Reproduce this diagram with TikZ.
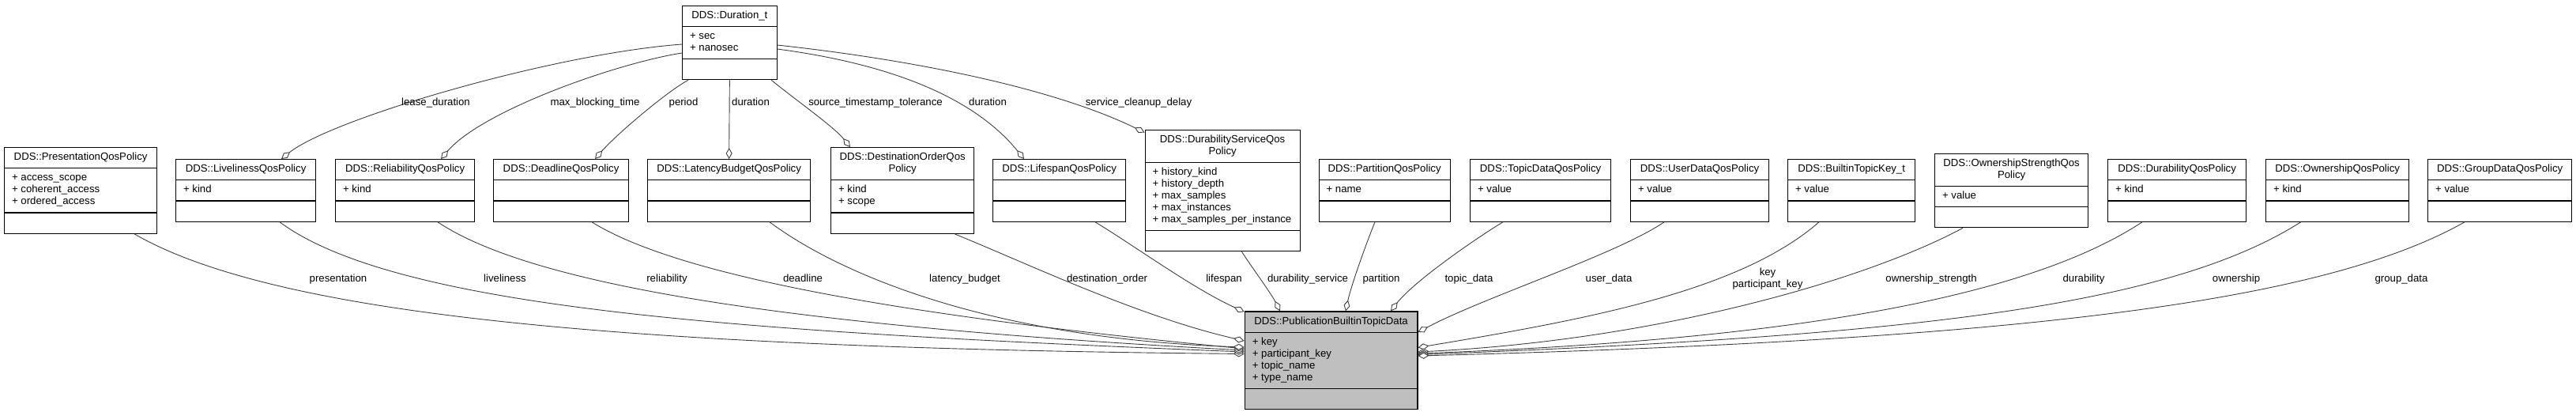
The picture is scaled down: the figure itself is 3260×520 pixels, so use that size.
\documentclass[tikz,border=0pt]{standalone}
\usepackage{fontspec}
\setmainfont{Liberation Sans}
\usetikzlibrary{shapes.multipart,arrows.meta}
\newcommand\clshead[1]{\begin{tabular}{@{}c@{}}#1\end{tabular}}
\newcommand\clsattr[1]{\begin{tabular}{@{}l@{}}#1\end{tabular}}
\begin{document}
\begin{tikzpicture}[x=1pt,y=-1pt,
  cls/.style={rectangle split, rectangle split parts=3, draw=black, line width=1.2pt,
    fill=white, inner xsep=9.5pt, inner ysep=5pt,
    rectangle split part align={center,left,left}, anchor=north west,
    font=\fontsize{13.2}{15}\selectfont},
  hl/.style={cls, fill=black!25},
  agg/.style={draw=black!75, line width=0.9pt,
    -{Diamond[fill=white, length=14pt, width=8pt, line width=0.9pt]}},
  lbl/.style={inner sep=0pt, anchor=base, font=\fontsize{13.2}{15}\selectfont}]
\fontsize{13.2}{15}\selectfont
\fill[white] (0,0) rectangle (3260,520);
\useasboundingbox (0,0) rectangle (3260,520);

% classes
\node[cls, minimum width=119.5pt] (dura) at (863,6.5) {\clshead{DDS::Duration\_t}\nodepart{two}\clsattr{+ sec\\+ nanosec}\nodepart{three}\strut};
\node[cls, minimum width=193pt] (pres) at (5,186) {\clshead{DDS::PresentationQosPolicy}\nodepart{two}\clsattr{+ access\_scope\\+ coherent\_access\\+ ordered\_access}\nodepart{three}\strut};
\node[cls, minimum width=177pt] (live) at (222,201) {\clshead{DDS::LivelinessQosPolicy}\nodepart{two}\clsattr{+ kind}\nodepart{three}\strut};
\node[cls, minimum width=176pt] (rel) at (424,201) {\clshead{DDS::ReliabilityQosPolicy}\nodepart{two}\clsattr{+ kind}\nodepart{three}\strut};
\node[cls, minimum width=171pt] (dead) at (624,201) {\clshead{DDS::DeadlineQosPolicy}\nodepart{two}\strut\nodepart{three}\strut};
\node[cls, minimum width=206pt] (lat) at (819,201) {\clshead{DDS::LatencyBudgetQosPolicy}\nodepart{two}\strut\nodepart{three}\strut};
\node[cls, minimum width=181pt] (dest) at (1051,186) {\clshead{DDS::DestinationOrderQos\\Policy}\nodepart{two}\clsattr{+ kind\\+ scope}\nodepart{three}\strut};
\node[cls, minimum width=168pt] (life) at (1256,201) {\clshead{DDS::LifespanQosPolicy}\nodepart{two}\strut\nodepart{three}\strut};
\node[cls, minimum width=196pt] (dsvc) at (1448.5,163.5) {\clshead{DDS::DurabilityServiceQos\\Policy}\nodepart{two}\clsattr{+ history\_kind\\+ history\_depth\\+ max\_samples\\+ max\_instances\\+ max\_samples\_per\_instance}\nodepart{three}\strut};
\node[cls, minimum width=166pt] (part) at (1668.5,201) {\clshead{DDS::PartitionQosPolicy}\nodepart{two}\clsattr{+ name}\nodepart{three}\strut};
\node[cls, minimum width=178pt] (topic) at (1860,201) {\clshead{DDS::TopicDataQosPolicy}\nodepart{two}\clsattr{+ value}\nodepart{three}\strut};
\node[cls, minimum width=175pt] (user) at (2063,201) {\clshead{DDS::UserDataQosPolicy}\nodepart{two}\clsattr{+ value}\nodepart{three}\strut};
\node[cls, minimum width=161pt] (btk) at (2262,201) {\clshead{DDS::BuiltinTopicKey\_t}\nodepart{two}\clsattr{+ value}\nodepart{three}\strut};
\node[cls, minimum width=194pt] (ostr) at (2448,193.5) {\clshead{DDS::OwnershipStrengthQos\\Policy}\nodepart{two}\clsattr{+ value}\nodepart{three}\strut};
\node[cls, minimum width=175pt] (dur) at (2667,201) {\clshead{DDS::DurabilityQosPolicy}\nodepart{two}\clsattr{+ kind}\nodepart{three}\strut};
\node[cls, minimum width=181pt] (own) at (2867,201) {\clshead{DDS::OwnershipQosPolicy}\nodepart{two}\clsattr{+ kind}\nodepart{three}\strut};
\node[cls, minimum width=182pt] (grp) at (3072,201) {\clshead{DDS::GroupDataQosPolicy}\nodepart{two}\clsattr{+ value}\nodepart{three}\strut};
\node[hl, minimum width=218.6pt] (pub) at (1574.7,393.3) {\clshead{DDS::PublicationBuiltinTopicData}\nodepart{two}\clsattr{+ key\\+ participant\_key\\+ topic\_name\\+ type\_name}\nodepart{three}\strut};

% Duration_t edges
\draw[agg] ([yshift=-49.5pt]dura.north west) .. controls (700,68) and (420,150) .. ([xshift=134pt]live.north west);
\draw[agg] ([yshift=-60.5pt]dura.north west) .. controls (780,80) and (610,140) .. ([xshift=134pt]rel.north west);
\draw[agg] ([xshift=8pt]dura.south west) .. controls (845,115) and (780,170) .. ([xshift=129pt]dead.north west);
\draw[agg] (dura.south) -- (lat.north);
\draw[agg] ([xshift=-7.5pt]dura.south east) .. controls (1005,125) and (1055,160) .. ([xshift=25pt]dest.north west);
\draw[agg] ([yshift=-55.5pt]dura.north east) .. controls (1120,80) and (1230,120) .. ([xshift=40pt]life.north west);
\draw[agg] ([yshift=-50.5pt]dura.north east) .. controls (1150,75) and (1330,110) .. ([yshift=-4pt]dsvc.north west);

% edges into PublicationBuiltinTopicData
\draw[agg] ([xshift=165pt]pres.south west) .. controls (350,400) and (800,440) .. ([yshift=-54.2pt]pub.north west);
\draw[agg] ([xshift=132pt]live.south west) .. controls (504,391.7) and (950,420) .. ([yshift=-51.7pt]pub.north west);
\draw[agg] ([xshift=130pt]rel.south west) .. controls (684,367.7) and (1050,415) .. ([yshift=-49.7pt]pub.north west);
\draw[agg] ([xshift=125pt]dead.south west) .. controls (860,350) and (1150,400) .. ([yshift=-47.7pt]pub.north west);
\draw[agg] ([xshift=155pt]lat.south west) .. controls (1060,345) and (1250,428) .. ([yshift=-45.7pt]pub.north west);
\draw[agg] ([xshift=157pt]dest.south west) .. controls (1298,332.3) and (1440,400) .. ([yshift=-37.7pt]pub.north west);
\draw[agg] ([xshift=130pt]life.south west) .. controls (1436,311) and (1510,365) .. ([yshift=-1pt]pub.north west);
\draw[agg] ([xshift=123pt]dsvc.south west) .. controls (1582,335) and (1608,370) .. ([xshift=45.3pt]pub.north west);
\draw[agg] ([xshift=71.5pt]part.south west) .. controls (1732,300) and (1710,360) .. ([xshift=128.3pt]pub.north west);
\draw[agg] ([xshift=42pt]topic.south west) .. controls (1870,300) and (1790,355) .. ([xshift=185.3pt]pub.north west);
\draw[agg] ([xshift=43pt]user.south west) .. controls (2046,321.7) and (1880,375) .. ([yshift=-26.7pt]pub.north east);
\draw[agg] ([xshift=40pt]btk.south west) .. controls (2200,370) and (2000,405) .. ([yshift=-46.2pt]pub.north east);
\draw[agg] ([xshift=36pt]ostr.south west) .. controls (2364,353) and (2100,430) .. ([yshift=-51.7pt]pub.north east);
\draw[agg] ([xshift=44pt]dur.south west) .. controls (2560,380) and (2250,430) .. ([yshift=-53.7pt]pub.north east);
\draw[agg] ([xshift=44.7pt]own.south west) .. controls (2740,390) and (2400,425) .. ([yshift=-55.2pt]pub.north east);
\draw[agg] ([xshift=47pt]grp.south west) .. controls (2939,382.7) and (2550,430) .. ([yshift=-56.7pt]pub.north east);

% labels
\node[lbl] (l1) at (551.5,133) {lease\_duration};
\node[lbl] (l2) at (753,133) {max\_blocking\_time};
\node[lbl] (l3) at (865,133) {period};
\node[lbl] (l4) at (950,133) {duration};
\node[lbl] (l5) at (1108,133) {source\_timestamp\_tolerance};
\node[lbl] (l6) at (1250,133) {duration};
\node[lbl] (l7) at (1441,133) {service\_cleanup\_delay};
\node[lbl] (l8) at (428,356.5) {presentation};
\node[lbl] (l9) at (639,356.5) {liveliness};
\node[lbl] (l10) at (844,356.5) {reliability};
\node[lbl] (l11) at (1016,356.5) {deadline};
\node[lbl] (l12) at (1221,356.5) {latency\_budget};
\node[lbl] (l13) at (1401,356.5) {destination\_order};
\node[lbl] (l14) at (1549,356.5) {lifespan};
\node[lbl] (l15) at (1655,356.5) {durability\_service};
\node[lbl] (l16) at (1748,356.5) {partition};
\node[lbl] (l17) at (1859,356.5) {topic\_data};
\node[lbl] (l18) at (2036,356.5) {user\_data};
\node[inner sep=0pt, align=center, anchor=center, font=\fontsize{13.2}{15}\selectfont] (l19) at (2237,352.8) {\strut key\\\strut participant\_key};
\node[lbl] (l20) at (2444,356.5) {ownership\_strength};
\node[lbl] (l21) at (2637,356.5) {durability};
\node[lbl] (l22) at (2830,356.5) {ownership};
\node[lbl] (l23) at (3039,356.5) {group\_data};
\end{tikzpicture}
\end{document}
